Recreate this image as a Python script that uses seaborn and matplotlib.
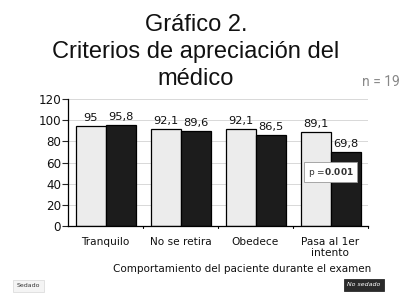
import matplotlib
matplotlib.use("Agg")
import matplotlib.pyplot as plt
import seaborn as sns
import pandas as pd

categories = ["Tranquilo", "No se retira", "Obedece", "Pasa al 1er\nintento"]
groups = ["Sedado", "No sedado"]
sedado = [95, 92.1, 92.1, 89.1]
no_sedado = [95.8, 89.6, 86.5, 69.8]
yticks = [0, 20, 40, 60, 80, 100, 120]

df = pd.DataFrame({
    "cat": categories * 2,
    "grupo": [groups[0]] * 4 + [groups[1]] * 4,
    "val": sedado + no_sedado,
})

sns.set_theme(style="white")
plt.rcParams["font.family"] = ["DejaVu Sans"]

fig = plt.figure(figsize=(4.0, 3.05), dpi=100)
ax = fig.add_axes([0.17, 0.259, 0.75, 0.416])

sns.barplot(data=df, x="cat", y="val", hue="grupo", order=categories,
            hue_order=groups, palette=["#ececec", "#1c1c1c"],
            edgecolor="black", linewidth=0.9, width=0.8, gap=0,
            legend=False, ax=ax, errorbar=None)

for cont in ax.containers:
    labels = [f"{b.get_height():g}".replace(".", ",") for b in cont]
    ax.bar_label(cont, labels=labels, padding=2, fontsize=8.2, color="#111111")

ax.set_ylim(0, 120)
ax.set_xlim(-0.5, 3.5)
ax.set_yticks(yticks)
ax.set_yticklabels([str(t) for t in yticks], fontsize=8.6, color="#111111")
ax.tick_params(axis="x", labelsize=7.6, colors="#111111", length=0, pad=8)
ax.tick_params(axis="y", length=4, width=0.8, left=True, pad=1)
ax.set_xticks(range(len(categories)))
ax.set_xticklabels(categories, linespacing=1.15)
# boundary ticks on x axis
for b in [0.5, 1.5, 2.5, 3.5]:
    ax.plot([b, b], [0, -2], color="black", lw=0.8, clip_on=False)

ax.yaxis.grid(True, color="#d8d8d8", lw=0.7)
ax.set_axisbelow(True)
for s in ["top", "right"]:
    ax.spines[s].set_visible(False)
for s in ["left", "bottom"]:
    ax.spines[s].set_color("black")
    ax.spines[s].set_linewidth(0.9)
ax.set_xlabel("")
ax.set_ylabel("")

ax.text(3.0, 51, r"p =$\mathbf{0.001}$", fontsize=6.5, color="#333333",
        ha="center", va="center",
        bbox=dict(boxstyle="square,pad=0.35", fc="white", ec="#999999", lw=0.6))

fig.text(0.49, 0.955, "Gráfico 2.\nCriterios de apreciación del\nmédico",
         family="Liberation Sans", fontsize=17, ha="center", va="top",
         linespacing=1.3, color="#111111")
fig.text(0.905, 0.73, "n = 19", fontsize=10, color="#888888",
         family="Roboto", ha="left", va="center")
fig.text(0.605, 0.118, "Comportamiento del paciente durante el examen",
         fontsize=7.5, ha="center", va="center", color="#111111")

fig.text(0.07, 0.063, "Sedado", fontsize=4.5, ha="center", va="center",
         color="#333333",
         bbox=dict(boxstyle="square,pad=0.6", fc="#f4f4f4", ec="#dddddd", lw=0.6))
fig.text(0.91, 0.066, "No sedado", fontsize=4.5, ha="center", va="center",
         color="white", style="italic",
         bbox=dict(boxstyle="square,pad=0.6", fc="#2a2a2a", ec="#2a2a2a", lw=0.6))

fig.savefig("out.png", dpi=100, facecolor="white")
